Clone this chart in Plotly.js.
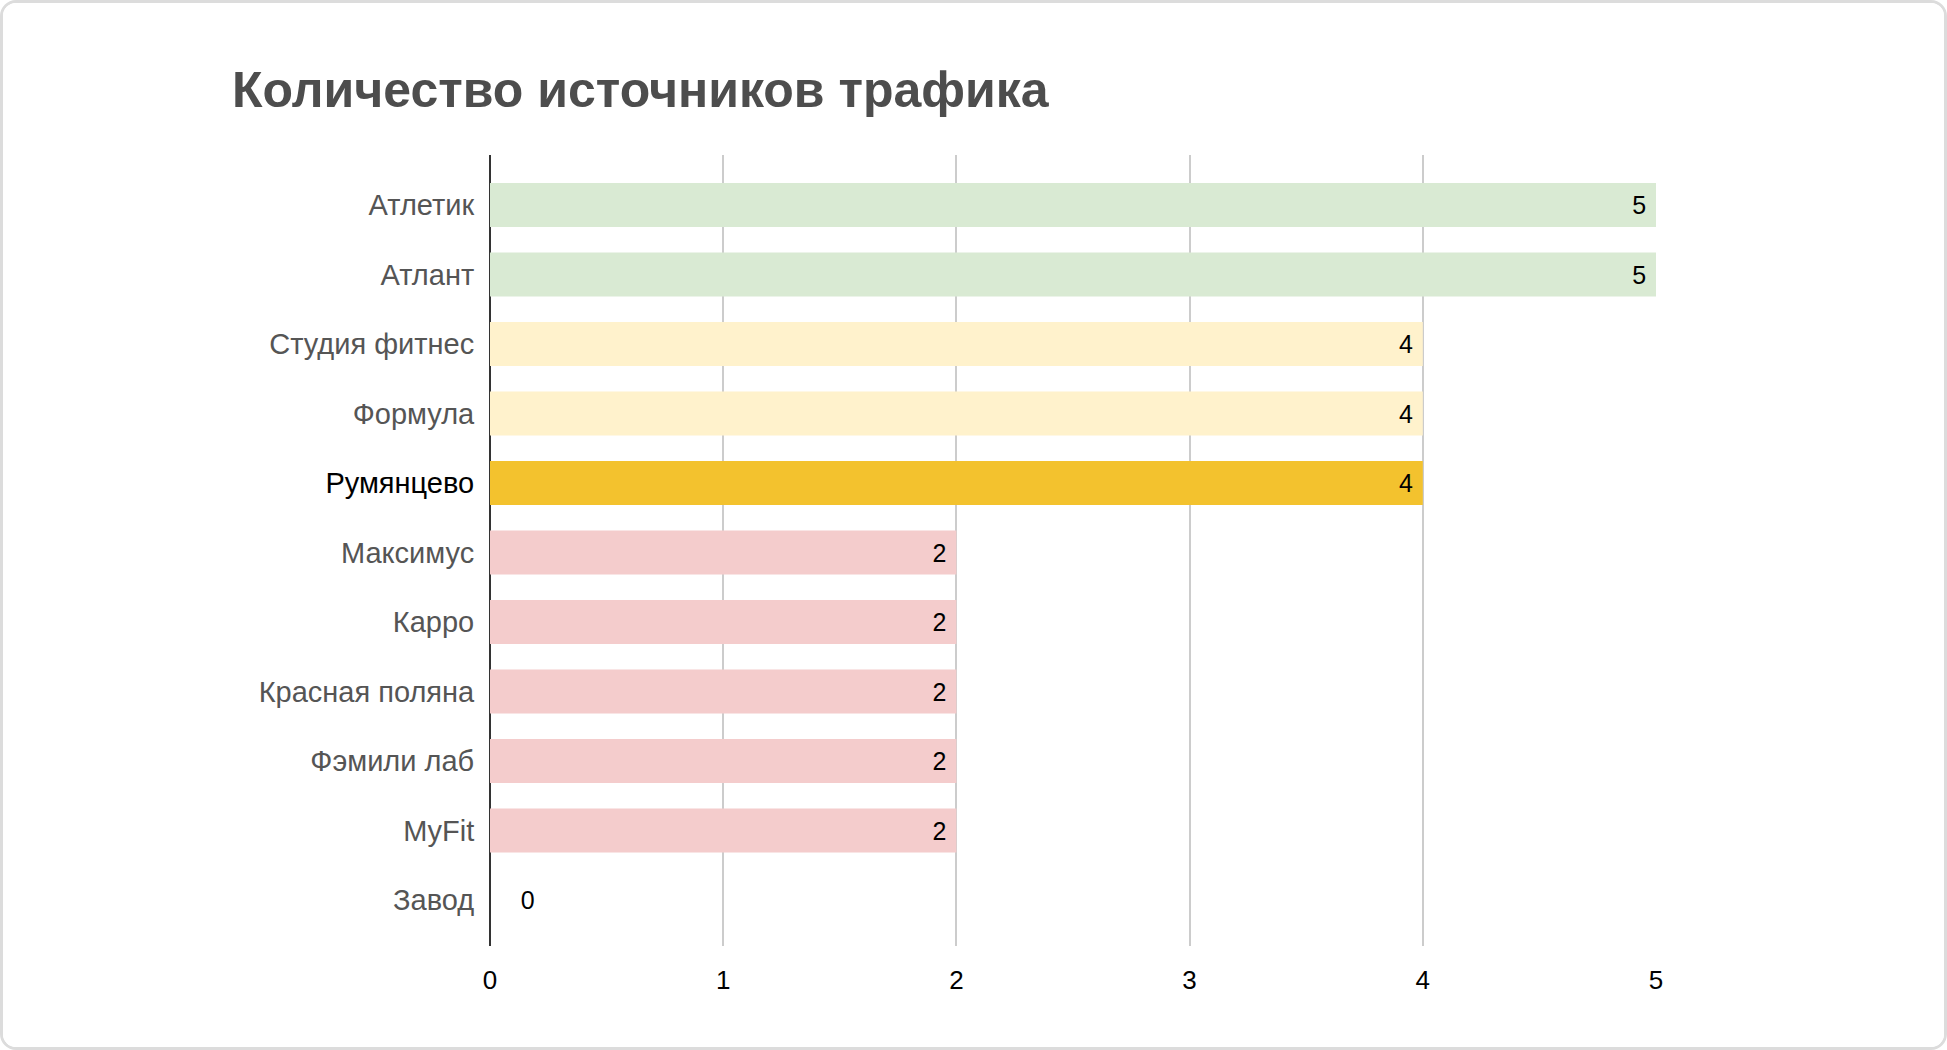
<!DOCTYPE html>
<html>
<head>
<meta charset="utf-8">
<script src="https://cdn.plot.ly/plotly-3.0.1.min.js"></script>
<style>
  html, body { margin: 0; padding: 0; background: #ffffff; }
  #frame {
    position: absolute; left: 0; top: 0;
    width: 1941px; height: 1044px;
    border: 3px solid #dcdcdc; border-radius: 16px;
    overflow: hidden; background: #ffffff;
  }
  #chart { width: 1941px; height: 1044px; margin: -3px 0 0 -3px; }
</style>
</head>
<body>
<div id="frame"><div id="chart"></div></div>
<script>
// Traffic sources per club
const clubs = ['Атлетик', 'Атлант', 'Студия фитнес', 'Формула', 'Румянцево',
               'Максимус', 'Карро', 'Красная поляна', 'Фэмили лаб', 'MyFit', 'Завод'];
const sourceCounts = [5, 5, 4, 4, 4, 2, 2, 2, 2, 2, 0];
const highlightClub = 'Румянцево';
const xTicks = [0, 1, 2, 3, 4, 5];

const colorFor = (club, v) => {
    if (club === highlightClub) return '#f3c22e';
    if (v >= 5) return '#d9ead3';
    if (v >= 4) return '#fff2cc';
    return '#f4cccc';
};

const trace = {
    type: 'bar',
    orientation: 'h',
    y: clubs,
    x: sourceCounts,
    width: 0.633,
    marker: { color: clubs.map((c, i) => colorFor(c, sourceCounts[i])) },
    // nbsp padding keeps labels off the bar end / axis line
    text: sourceCounts.map(v => (v > 0 ? v + '\u00a0' : '\u00a0\u00a0\u00a0\u00a0' + v)),
    textposition: sourceCounts.map(v => (v > 0 ? 'inside' : 'outside')),
    insidetextanchor: 'end',
    textfont: { family: 'Liberation Sans, Arial, sans-serif', size: 25, color: '#000000' },
    constraintext: 'none',
    cliponaxis: false,
    hoverinfo: 'skip',
};

const layout = {
    width: 1947,
    height: 1050,
    title: {
        text: '<b>Количество источников трафика</b>',
        xref: 'container', yref: 'container',
        x: 232 / 1947, xanchor: 'left',
        y: 1 - 89 / 1050, yanchor: 'middle',
        font: { family: 'Liberation Sans, Arial, sans-serif', size: 50, color: '#4d4d4d' },
    },
    xaxis: {
        range: [0, 5],
        tickvals: xTicks,
        tickfont: { family: 'Liberation Sans, Arial, sans-serif', size: 26, color: '#000000' },
        ticks: 'outside', ticklen: 11, tickcolor: 'rgba(0,0,0,0)',
        gridcolor: '#cccccc', gridwidth: 2,
        zeroline: true, zerolinecolor: '#333333', zerolinewidth: 2,
        showline: false,
        fixedrange: true,
    },
    yaxis: {
        type: 'category',
        range: [10.66, -0.72],
        tickvals: clubs,
        ticktext: clubs.map(c => (c === highlightClub
            ? '<span style="color:#000000">' + c + '</span>' : c)),
        tickfont: { family: 'Liberation Sans, Arial, sans-serif', size: 29, color: '#555555' },
        ticks: 'outside', ticklen: 9, tickcolor: 'rgba(0,0,0,0)',
        showgrid: false,
        showline: false,
        fixedrange: true,
    },
    margin: { l: 490, r: 291, t: 155, b: 104 },
    plot_bgcolor: '#ffffff',
    paper_bgcolor: '#ffffff',
    showlegend: false,
    bargap: 0.37,
};

Plotly.newPlot('chart', [trace], layout, { displayModeBar: false, staticPlot: true });
</script>
</body>
</html>
